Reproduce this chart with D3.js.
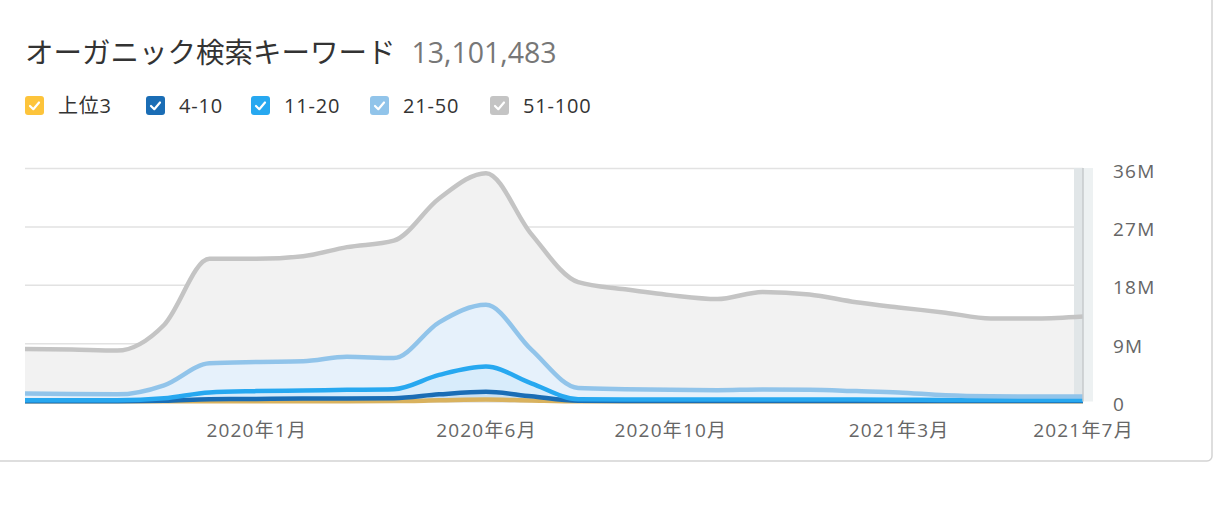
<!DOCTYPE html>
<html>
<head>
<meta charset="utf-8">
<script src="https://cdn.jsdelivr.net/npm/d3@7"></script>
<style>
  body { margin: 0; background: #fff; }
  svg { display: block; font-family: "Open Sans", "Noto Sans CJK JP", sans-serif; }
</style>
</head>
<body>
<svg></svg>
<script>
const width = 1220;
const height = 531;

// monthly points, Aug 2019 .. Jul 2021 (values in millions of keywords)
const months = ['2019-08','2019-09','2019-10','2019-11','2019-12','2020-01','2020-02','2020-03',
                '2020-04','2020-05','2020-06','2020-07','2020-08','2020-09','2020-10','2020-11',
                '2020-12','2021-01','2021-02','2021-03','2021-04','2021-05','2021-06','2021-07'];
const top3   = [0.02,0.02,0.02,0.03,0.05,0.05,0.05,0.05,0.06,0.18,0.3,0.15,0.03,0.02,0.02,0.02,0.02,0.02,0.02,0.02,0.02,0.02,0.02,0.02];
const pos4_10 = [0.03,0.03,0.03,0.09,0.3,0.35,0.4,0.4,0.44,0.92,1.2,0.65,0.09,0.06,0.06,0.06,0.06,0.06,0.06,0.06,0.05,0.05,0.05,0.05];
const pos11_20 = [0.15,0.15,0.15,0.38,1.05,1.2,1.25,1.35,1.4,3.0,3.9,2.0,0.23,0.22,0.22,0.22,0.22,0.22,0.22,0.2,0.18,0.18,0.18,0.18];
const pos21_50 = [1.05,0.95,0.9,2.0,4.5,4.5,4.5,5.1,4.8,8.1,9.5,5.2,1.75,1.6,1.5,1.45,1.55,1.5,1.3,1.12,0.7,0.55,0.53,0.53];
const pos51_100 = [6.85,6.85,6.75,9.3,16.1,15.9,16.2,16.9,18.1,19.1,20.3,17.8,16.3,15.4,14.6,14.05,15.05,14.7,13.7,13.1,12.75,12.0,12.02,12.32];

const seriesNames = ['上位3', '4-10', '11-20', '21-50', '51-100'];
const seriesKeys = ['top3', 'p4_10', 'p11_20', 'p21_50', 'p51_100'];
const lineColors = ['#d9b25e', '#1a6db5', '#27a8f0', '#91c4ea', '#c4c4c4'];
const boxColors  = ['#fdc43b', '#1a6db5', '#27a8f0', '#91c4ea', '#c4c4c4'];
const fillColors = ['#f3e4c0', '#c9e1f5', '#d8ecfb', '#e6f1fb', '#f2f2f2'];

const yTicks = [0, 9, 18, 27, 36];
const xTickLabels = ['2020年1月', '2020年6月', '2020年10月', '2021年3月', '2021年7月'];
const xTickDates = ['2020-01', '2020-06', '2020-10', '2021-03', '2021-07'];

const parseMonth = d3.timeParse('%Y-%m');
const rows = months.map((m, i) => ({
    date: parseMonth(m),
    top3: top3[i], p4_10: pos4_10[i], p11_20: pos11_20[i], p21_50: pos21_50[i], p51_100: pos51_100[i]
}));

const plotLeft = 25, plotRight = 1083, plotTop = 168, plotBottom = 401.5;

const xScale = d3.scaleTime()
    .domain([rows[0].date, rows[rows.length - 1].date])
    .range([plotLeft, plotRight]);
const yScale = d3.scaleLinear()
    .domain([0, 36])
    .range([plotBottom, plotTop]);

const stacked = d3.stack().keys(seriesKeys)(rows);

const svg = d3.select('svg')
    .attr('width', width)
    .attr('height', height);

// card border
svg.append('rect')
    .attr('x', -20).attr('y', -20)
    .attr('width', 1232).attr('height', 481)
    .attr('rx', 5)
    .attr('fill', '#fff')
    .attr('stroke', '#d3d3d3')
    .attr('stroke-width', 1.5);

// title
const title = svg.append('text')
    .attr('x', 25).attr('y', 63)
    .style('font-size', '28.5px');
title.append('tspan').attr('fill', '#333').text('オーガニック検索キーワード');
title.append('tspan').attr('fill', '#777').attr('dx', 16).text('13,101,483');

// legend
const legendX = [25, 146, 251, 370, 490];
const legend = svg.append('g')
    .selectAll('g')
    .data(seriesNames)
    .enter()
    .append('g')
        .attr('transform', (d, i) => `translate(${legendX[i]}, 96)`);
legend.append('rect')
    .attr('width', 19).attr('height', 19).attr('rx', 3)
    .attr('fill', (d, i) => boxColors[i]);
legend.append('path')
    .attr('d', 'M5,10 L8.3,13.2 L14,6.5')
    .attr('fill', 'none')
    .attr('stroke', '#fff')
    .attr('stroke-width', 2.2)
    .attr('stroke-linecap', 'round')
    .attr('stroke-linejoin', 'round');
legend.append('text')
    .attr('x', 33).attr('y', 17)
    .attr('fill', '#333')
    .style('font-size', '20px')
    .style('letter-spacing', '0.8px')
    .text(d => d);

// grid
const yGrid = d3.axisLeft(yScale)
    .tickValues(yTicks)
    .tickSize(-(plotRight - plotLeft))
    .tickFormat('');
svg.append('g')
    .attr('transform', `translate(${plotLeft}, 0)`)
    .call(yGrid)
    .call(g => g.select('.domain').remove())
    .call(g => g.selectAll('line').attr('stroke', '#e2e2e2').attr('stroke-width', 1.5));

// areas, largest first
const area = d3.area()
    .x(d => xScale(d.data.date))
    .y0(yScale(0))
    .y1(d => yScale(d[1]))
    .curve(d3.curveMonotoneX);

svg.append('g')
    .selectAll('path')
    .data(stacked.slice().reverse())
    .enter()
    .append('path')
        .attr('d', area)
        .attr('fill', d => fillColors[d.index]);

// hover column at last point
svg.append('rect')
    .attr('x', 1074).attr('y', plotTop).attr('width', 19).attr('height', plotBottom - plotTop)
    .attr('fill', '#edf1f2');
svg.append('rect')
    .attr('x', 1074).attr('y', plotTop).attr('width', 9).attr('height', plotBottom - plotTop)
    .attr('fill', '#e1e6e8');

const line = d3.line()
    .x(d => xScale(d.data.date))
    .y(d => yScale(d[1]))
    .curve(d3.curveMonotoneX);

svg.append('g')
    .selectAll('path')
    .data(stacked)
    .enter()
    .append('path')
        .attr('d', line)
        .attr('fill', 'none')
        .attr('stroke', d => lineColors[d.index])
        .attr('stroke-width', 4.5)
        .attr('stroke-linejoin', 'round');

svg.append('line')
    .attr('x1', plotRight).attr('x2', plotRight)
    .attr('y1', plotTop).attr('y2', plotBottom)
    .attr('stroke', '#c6cacc')
    .attr('stroke-width', 1.5);

// y labels on the right
const yLabels = d3.axisRight(yScale)
    .tickValues(yTicks)
    .tickSize(0)
    .tickPadding(0)
    .tickFormat(d => d === 0 ? '0' : d + 'M');
svg.append('g')
    .attr('transform', 'translate(1113, 3)')
    .call(yLabels)
    .call(g => g.select('.domain').remove())
    .call(g => g.selectAll('text')
        .attr('fill', '#666')
        .style('font-size', '19px')
        .style('letter-spacing', '1.2px')
        .style('font-family', '"Open Sans", "Noto Sans CJK JP", sans-serif'));

// x labels
const xAxis = d3.axisBottom(xScale)
    .tickValues(xTickDates.map(parseMonth))
    .tickSize(0)
    .tickPadding(0)
    .tickFormat((d, i) => xTickLabels[i]);
svg.append('g')
    .attr('transform', 'translate(0, 423)')
    .call(xAxis)
    .call(g => g.select('.domain').remove())
    .call(g => g.selectAll('text')
        .attr('fill', '#666')
        .style('font-size', '19px')
        .style('letter-spacing', '1.2px')
        .style('font-family', '"Open Sans", "Noto Sans CJK JP", sans-serif'));
</script>
</body>
</html>
